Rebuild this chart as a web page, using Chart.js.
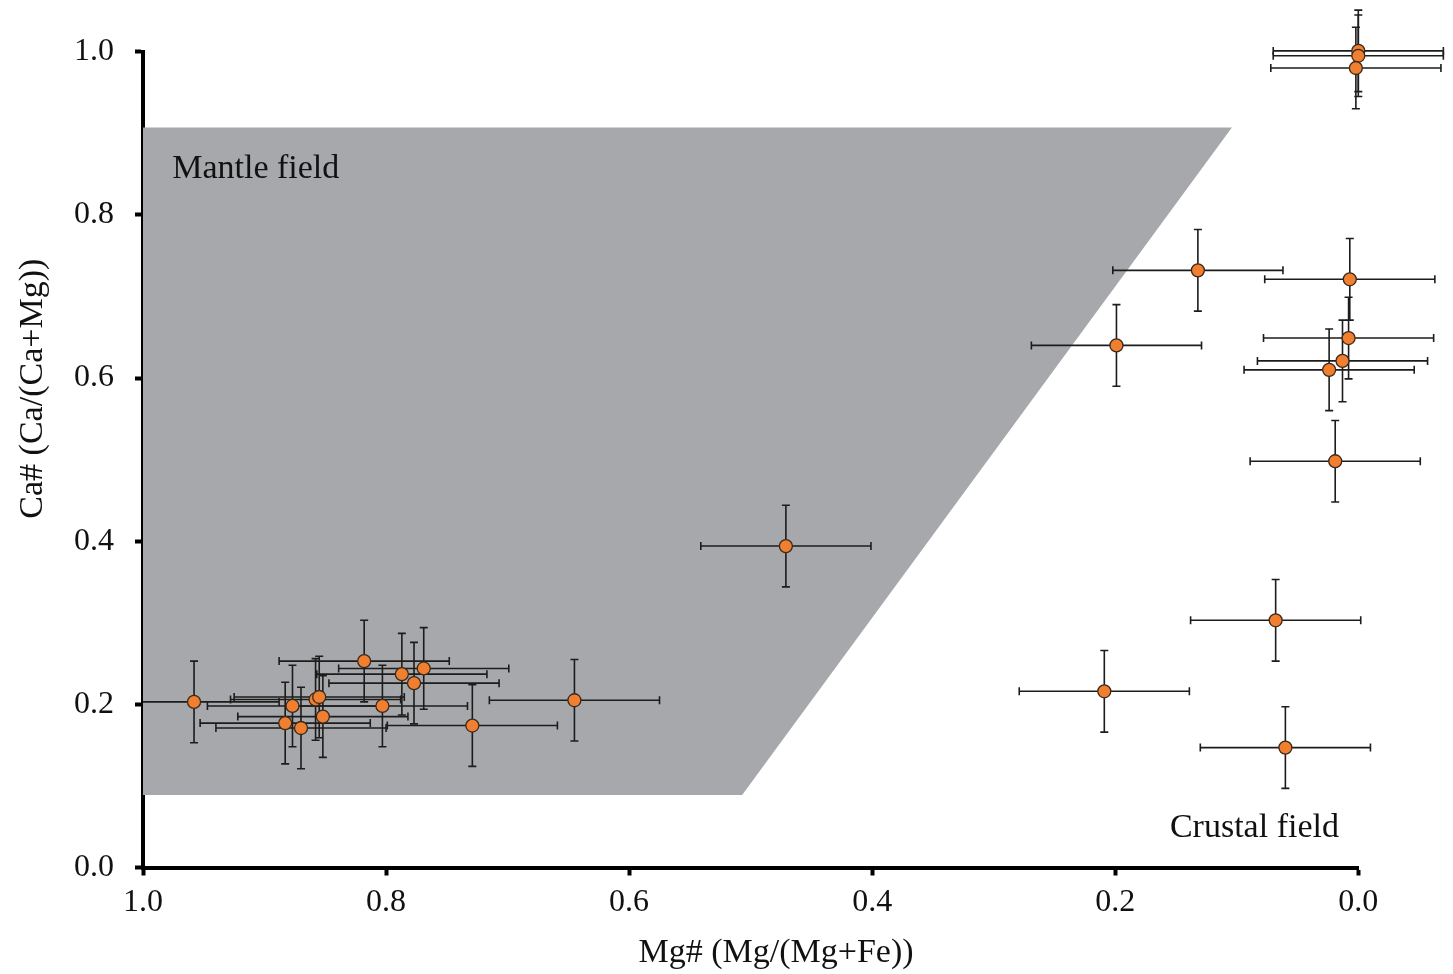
<!DOCTYPE html>
<html>
<head>
<meta charset="utf-8">
<title>Ca# vs Mg#</title>
<script src="https://cdn.jsdelivr.net/npm/chart.js@4.4.1/dist/chart.umd.min.js"></script>
<style>
  html, body { margin: 0; padding: 0; background: #ffffff; }
  #c { display: block; }
</style>
</head>
<body>
<canvas id="c" width="1453" height="974"></canvas>
<script>
// Mg# (Mg/(Mg+Fe)) of each analysed grain
const mgNumber = [
  0.958, 0.818, 0.787, 0.769, 0.777, 0.858, 0.855, 0.877, 0.803, 0.852,
  0.883, 0.870, 0.729, 0.645, 0.471,
  0.132, 0.007, 0.199, 0.008, 0.013, 0.024, 0.019,
  0.068, 0.209, 0.060,
  0.000, 0.000, 0.002
];
// Ca# (Ca/(Ca+Mg)) of the same grains
const caNumber = [
  0.203, 0.253, 0.237, 0.244, 0.226, 0.206, 0.209, 0.198, 0.198, 0.185,
  0.177, 0.171, 0.174, 0.205, 0.394,
  0.732, 0.721, 0.640, 0.649, 0.621, 0.610, 0.498,
  0.303, 0.216, 0.147,
  1.001, 0.995, 0.980
];
// 1-sigma uncertainties
const mgError = [
  0.07, 0.07, 0.07, 0.07, 0.07, 0.07, 0.07, 0.07, 0.07, 0.07,
  0.07, 0.07, 0.07, 0.07, 0.07,
  0.07, 0.07, 0.07, 0.07, 0.07, 0.07, 0.07,
  0.07, 0.07, 0.07,
  0.07, 0.07, 0.07
];
const caError = [
  0.05, 0.05, 0.05, 0.05, 0.05, 0.05, 0.05, 0.05, 0.05, 0.05,
  0.05, 0.05, 0.05, 0.05, 0.05,
  0.05, 0.05, 0.05, 0.05, 0.05, 0.05, 0.05,
  0.05, 0.05, 0.05,
  0.05, 0.05, 0.05
];

// Outline of the mantle field (closed polygon)
const mantleFieldMg = [1.0, 0.104, 0.507, 1.0, 1.0];
const mantleFieldCa = [0.907, 0.907, 0.089, 0.089, 0.907];

// Axis ticks
const tickValues = [0.0, 0.2, 0.4, 0.6, 0.8, 1.0];
const tickLabels = ['0.0', '0.2', '0.4', '0.6', '0.8', '1.0'];

// Field labels: [text, Mg#, Ca#] (left edge / baseline)
const fieldLabels = [
  ['Mantle field', 0.976, 0.845],
  ['Crustal field', 0.155, 0.037]
];

const xTitle = 'Mg# (Mg/(Mg+Fe))';
const yTitle = 'Ca# (Ca/(Ca+Mg))';

const SERIF = '"Liberation Serif", "Times New Roman", Times, serif';

const points = mgNumber.map((x, i) => ({ x: x, y: caNumber[i] }));
const mantleField = mantleFieldMg.map((x, i) => ({ x: x, y: mantleFieldCa[i] }));

// Error bars are drawn just before the points so the markers sit on top
const errorBars = {
  id: 'errorBars',
  beforeDatasetDraw(chart, args) {
    if (args.index !== 1) return;
    const xs = chart.scales.x, ys = chart.scales.y;
    const area = chart.chartArea;
    const ctx = chart.ctx;
    const cap = 4;
    ctx.save();
    ctx.strokeStyle = '#1c1c1c';
    ctx.lineWidth = 1.6;
    ctx.lineCap = 'butt';
    mgNumber.forEach((mg, i) => {
      const ca = caNumber[i];
      const px = xs.getPixelForValue(mg);
      const py = ys.getPixelForValue(ca);
      let xl = xs.getPixelForValue(mg + mgError[i]);
      const xr = xs.getPixelForValue(mg - mgError[i]);
      const yt = ys.getPixelForValue(ca + caError[i]);
      const yb = ys.getPixelForValue(ca - caError[i]);
      let leftCap = true;
      if (xl < area.left) { xl = area.left; leftCap = false; }
      ctx.beginPath();
      ctx.moveTo(xl, py); ctx.lineTo(xr, py);
      if (leftCap) { ctx.moveTo(xl, py - cap); ctx.lineTo(xl, py + cap); }
      ctx.moveTo(xr, py - cap); ctx.lineTo(xr, py + cap);
      ctx.moveTo(px, yt); ctx.lineTo(px, yb);
      ctx.moveTo(px - cap, yt); ctx.lineTo(px + cap, yt);
      ctx.moveTo(px - cap, yb); ctx.lineTo(px + cap, yb);
      ctx.stroke();
    });
    ctx.restore();
  }
};

// Field names and axis titles
const chartText = {
  id: 'chartText',
  afterDraw(chart) {
    const ctx = chart.ctx;
    const xs = chart.scales.x, ys = chart.scales.y;
    const area = chart.chartArea;
    ctx.save();
    ctx.fillStyle = '#111111';
    ctx.font = '34px ' + SERIF;
    ctx.textAlign = 'left';
    ctx.textBaseline = 'alphabetic';
    fieldLabels.forEach(([text, mg, ca]) => {
      ctx.fillText(text, xs.getPixelForValue(mg), ys.getPixelForValue(ca));
    });
    // x-axis title
    ctx.textAlign = 'center';
    ctx.fillText(xTitle, area.left + 633, area.bottom + 94);
    // y-axis title
    ctx.translate(42, area.top + 337);
    ctx.rotate(-Math.PI / 2);
    ctx.fillText(yTitle, 0, 0);
    ctx.restore();
  }
};

new Chart(document.getElementById('c'), {
  type: 'scatter',
  data: {
    datasets: [
      {
        type: 'line',
        label: 'Mantle field',
        data: mantleField,
        order: 2,
        fill: 'shape',
        backgroundColor: '#a7a8ab',
        borderWidth: 0,
        borderColor: 'rgba(0,0,0,0)',
        pointRadius: 0,
        tension: 0,
        clip: false
      },
      {
        type: 'scatter',
        label: 'Samples',
        data: points,
        order: 1,
        pointRadius: 6.5,
        pointHoverRadius: 6.5,
        backgroundColor: '#f07f2f',
        borderColor: '#3a2a1e',
        borderWidth: 1.3,
        clip: false
      }
    ]
  },
  options: {
    responsive: false,
    animation: false,
    devicePixelRatio: 1,
    layout: { padding: { top: 51.7, right: 94.7, bottom: 0, left: 0 } },
    plugins: {
      legend: { display: false },
      tooltip: { enabled: false },
      title: { display: false }
    },
    scales: {
      x: {
        type: 'linear',
        min: 0,
        max: 1,
        reverse: true,
        afterBuildTicks: s => { s.ticks = tickValues.map(v => ({ value: v })); },
        afterFit: s => { s.height = 974 - 867.5; },
        ticks: {
          callback: (v) => tickLabels[tickValues.indexOf(Math.round(v * 10) / 10)],
          color: '#111111',
          font: { family: SERIF, size: 32 },
          padding: 8,
          maxRotation: 0
        },
        grid: {
          display: true,
          drawOnChartArea: false,
          drawTicks: true,
          tickLength: 8,
          tickWidth: 4,
          tickColor: '#000000',
          color: '#000000'
        },
        border: { display: true, width: 4, color: '#000000' }
      },
      y: {
        type: 'linear',
        min: 0,
        max: 1,
        afterBuildTicks: s => { s.ticks = tickValues.map(v => ({ value: v })); },
        afterFit: s => { s.width = 143; },
        ticks: {
          callback: (v) => tickLabels[tickValues.indexOf(Math.round(v * 10) / 10)],
          color: '#111111',
          font: { family: SERIF, size: 32 },
          padding: 21
        },
        grid: {
          display: true,
          drawOnChartArea: false,
          drawTicks: true,
          tickLength: 8,
          tickWidth: 4,
          tickColor: '#000000',
          color: '#000000'
        },
        border: { display: true, width: 4, color: '#000000' }
      }
    }
  },
  plugins: [errorBars, chartText]
});
</script>
</body>
</html>
